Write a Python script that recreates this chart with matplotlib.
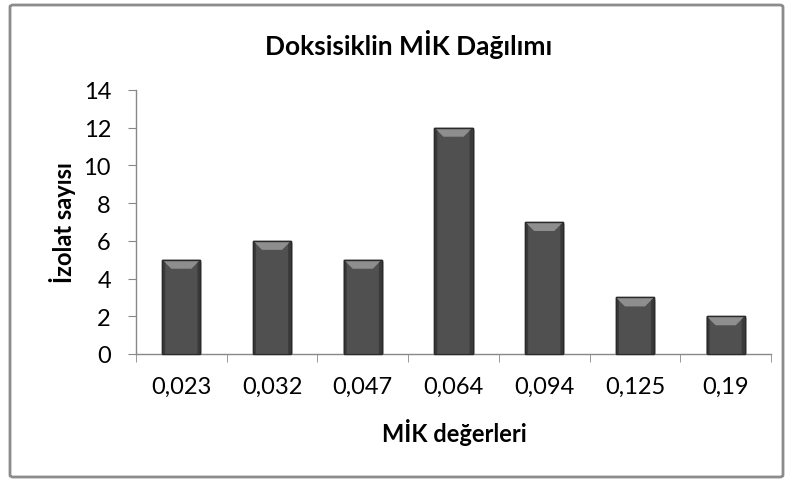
import matplotlib
matplotlib.use("Agg")
import matplotlib.pyplot as plt
from matplotlib.patches import Polygon, FancyBboxPatch
import matplotlib.patheffects as pe

plt.rcParams['font.family'] = ['Lato', 'DejaVu Sans']

categories = ["0,023", "0,032", "0,047", "0,064", "0,094", "0,125", "0,19"]
counts = [5, 6, 5, 12, 7, 3, 2]
y_ticks = [0, 2, 4, 6, 8, 10, 12, 14]

title = "Doksisiklin MİK Dağılımı"
x_title = "MİK değerleri"
y_title = "İzolat sayısı"

W, H = 792, 481
fig = plt.figure(figsize=(W / 100, H / 100), dpi=100)
fig.patch.set_facecolor("white")

# chart frame
frame = FancyBboxPatch((10 / W, 3 / H), 773 / W, 472 / H,
                       boxstyle="round,pad=0,rounding_size=0.004",
                       transform=fig.transFigure, facecolor="none",
                       edgecolor="#8c8c8c", linewidth=2)
fig.patches.append(frame)

ax = fig.add_axes([136 / W, 1 - 355 / H, (771 - 136) / W, (355 - 91) / H])
x = list(range(len(categories)))
bar_w = 0.42
bars = ax.bar(x, counts, width=bar_w, color="#505050", edgecolor="#2e2e2e",
              linewidth=1.0, zorder=2,
              path_effects=[pe.SimplePatchShadow(offset=(1.5, -1.5), shadow_rgbFace="#b0b0b0", alpha=0.6),
                            pe.Normal()])

ax.set_xlim(-0.5, len(categories) - 0.5)
ax.set_ylim(0, 14)
ax.set_yticks(y_ticks)
ax.set_yticklabels([str(v) for v in y_ticks], fontsize=17)
ax.set_xticks(x)
ax.set_xticklabels(categories, fontsize=17)
ax.tick_params(axis="x", which="major", length=0, pad=16)
ax.set_xticks([i + 0.5 for i in range(-1, len(categories))], minor=True)
ax.tick_params(axis="x", which="minor", length=6, color="#888888", direction="out")
ax.tick_params(axis="y", length=6, color="#888888", direction="out", pad=12)
for s in ("top", "right"):
    ax.spines[s].set_visible(False)
for s in ("left", "bottom"):
    ax.spines[s].set_color("#888888")
    ax.spines[s].set_linewidth(1)

# bevel highlights on the top of each bar
fig.canvas.draw()
inv = fig.transFigure.inverted()
bev = 9
for b in bars:
    x0, y0 = ax.transData.transform((b.get_x(), 0))
    x1, y1 = ax.transData.transform((b.get_x() + b.get_width(), b.get_height()))
    top = [(x0, y1), (x1, y1), (x1 - bev, y1 - bev), (x0 + bev, y1 - bev)]
    fig.patches.append(Polygon(inv.transform(top), closed=True, transform=fig.transFigure,
                               facecolor="#8e8e8e", edgecolor="none", zorder=3))
    left = [(x0, y0), (x0, y1), (x0 + 3, y1 - 3), (x0 + 3, y0)]
    right = [(x1, y0), (x1, y1), (x1 - 3, y1 - 3), (x1 - 3, y0)]
    for pts in (left, right):
        fig.patches.append(Polygon(inv.transform(pts), closed=True, transform=fig.transFigure,
                                   facecolor="#3a3a3a", edgecolor="none", zorder=3))
    outline = [(x0, y0), (x0, y1), (x1, y1), (x1, y0)]
    fig.patches.append(Polygon(inv.transform(outline), closed=True, transform=fig.transFigure,
                               facecolor="none", edgecolor="#2a2a2a", linewidth=1, zorder=4))

fig.text(409 / W, 1 - 45 / H, title, ha="center", va="center", fontsize=19, fontweight="bold")
fig.text(454 / W, 1 - 432 / H, x_title, ha="center", va="center", fontsize=17, fontweight="bold")
fig.text(62 / W, 1 - 223 / H, y_title, ha="center", va="center", fontsize=17,
         fontweight="bold", rotation=90)

fig.savefig("out.png", dpi=100, facecolor="white")
